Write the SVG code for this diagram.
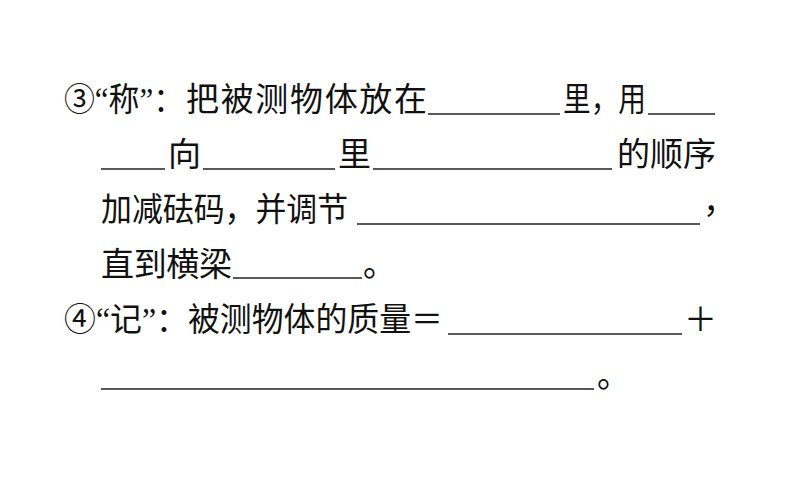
<svg xmlns="http://www.w3.org/2000/svg" width="794" height="496" viewBox="0 0 794 496">
<style>
.t{font-family:"Liberation Serif","Noto Sans CJK SC",serif;font-size:33px;fill:#111;}
.u{stroke:#222;stroke-width:1.6;fill:none;}
</style>
<rect width="794" height="496" fill="#fff"/>
<g id="item3">
<text class="t" x="64" y="111" textLength="120" lengthAdjust="spacingAndGlyphs">③“称”：</text>
<text class="t" x="186" y="111" textLength="241" lengthAdjust="spacing">把被测物体放在</text>
<line class="u" x1="428" y1="114" x2="560" y2="114"/>
<text class="t" x="563" y="111" textLength="83" lengthAdjust="spacingAndGlyphs">里，用</text>
<line class="u" x1="648" y1="114" x2="715" y2="114"/>
<line class="u" x1="101" y1="169" x2="165" y2="169"/>
<text class="t" x="168" y="166">向</text>
<line class="u" x1="203" y1="169" x2="335" y2="169"/>
<text class="t" x="338" y="166">里</text>
<line class="u" x1="373" y1="169" x2="612" y2="169"/>
<text class="t" x="617" y="166" textLength="99" lengthAdjust="spacing">的顺序</text>
<text class="t" x="101" y="221" textLength="247" lengthAdjust="spacingAndGlyphs">加减砝码，并调节</text>
<line class="u" x1="357" y1="224" x2="700" y2="224"/>
<text class="t" x="703" y="213">，</text>
<text class="t" x="101" y="276" textLength="131" lengthAdjust="spacing">直到横梁</text>
<line class="u" x1="233" y1="278" x2="362" y2="278"/>
<text class="t" x="363" y="276">。</text>
</g>
<g id="item4">
<text class="t" x="64" y="331" textLength="379" lengthAdjust="spacingAndGlyphs">④“记”：被测物体的质量＝</text>
<line class="u" x1="448" y1="334" x2="682" y2="334"/>
<text class="t" x="684" y="331">＋</text>
<line class="u" x1="101" y1="389" x2="594" y2="389"/>
<text class="t" x="597" y="387">。</text>
</g>
</svg>
